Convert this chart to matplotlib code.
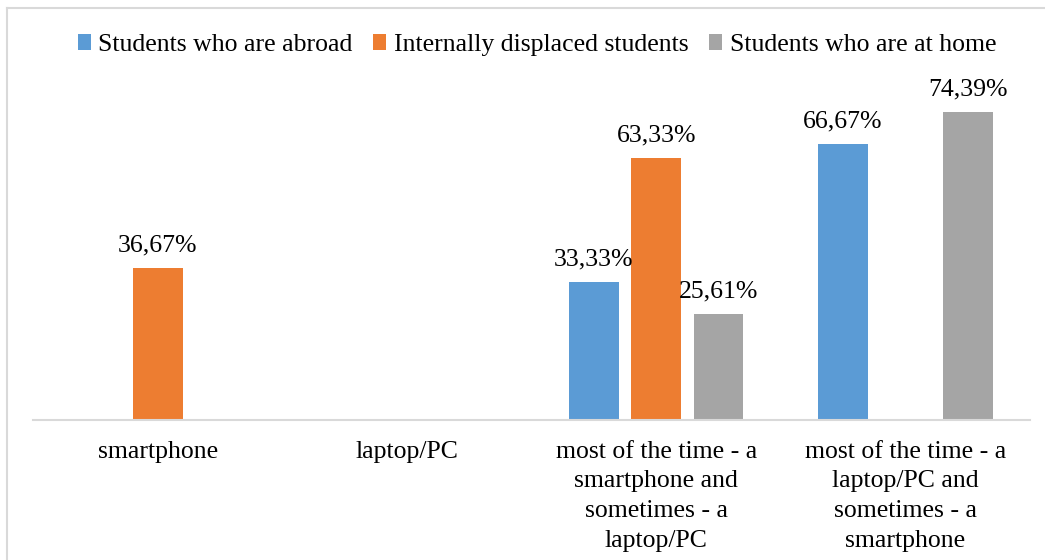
import numpy as np
import matplotlib
matplotlib.use('Agg')
import matplotlib.pyplot as plt
from matplotlib.lines import Line2D

categories = ['smartphone', 'laptop/PC',
              'most of the time - a\nsmartphone and\nsometimes - a\nlaptop/PC',
              'most of the time - a\nlaptop/PC and\nsometimes - a\nsmartphone']
series_names = ['Students who are abroad', 'Internally displaced students', 'Students who are at home']
abroad = [0, 0, 33.33, 66.67]
displaced = [36.67, 0, 63.33, 0]
home = [0, 0, 25.61, 74.39]
colors = ['#5B9BD5', '#ED7D31', '#A5A5A5']

plt.rcParams['font.family'] = ['Liberation Serif', 'DejaVu Serif']
fs = 18.5

fig = plt.figure(figsize=(10.45, 5.6), dpi=100)
ax = fig.add_axes([33 / 1045, 140 / 560, 997 / 1045, 330.8 / 560])

x = np.arange(len(categories))
width = 0.2
step = 0.25
for i, (name, vals) in enumerate(zip(series_names, [abroad, displaced, home])):
    pos = x + (i - 1) * step
    bars = ax.bar(pos, vals, width, color=colors[i], label=name)
    for b, v in zip(bars, vals):
        if v > 0:
            ax.text(b.get_x() + b.get_width() / 2, v + 2.9, '{:.2f}%'.format(v).replace('.', ','),
                    ha='center', va='bottom', fontsize=fs, color='#000000')

ax.set_xlim(-0.5, 3.5)
ax.set_ylim(0, 80)
ax.set_yticks([])
ax.set_xticks(x)
ax.set_xticklabels(categories, fontsize=fs, linespacing=1.45)
ax.tick_params(axis='x', length=0, pad=15)
for s in ['top', 'right', 'left']:
    ax.spines[s].set_visible(False)
ax.spines['bottom'].set_color('#D9D9D9')
ax.spines['bottom'].set_linewidth(1.5)

leg = fig.legend(loc='center', bbox_to_anchor=(537 / 1045, 1 - 45 / 560), ncol=3, frameon=False,
                 fontsize=fs, handlelength=0.5, handleheight=0.6, handletextpad=0.3,
                 columnspacing=0.8)

# outer chart border (only left and top visible in the crop)
fig.add_artist(Line2D([7 / 1045, 7 / 1045], [0, 1 - 8 / 560], color='#D9D9D9', lw=1.5))
fig.add_artist(Line2D([7 / 1045, 1], [1 - 8 / 560, 1 - 8 / 560], color='#D9D9D9', lw=1.5))

fig.savefig('out.png', dpi=100)
